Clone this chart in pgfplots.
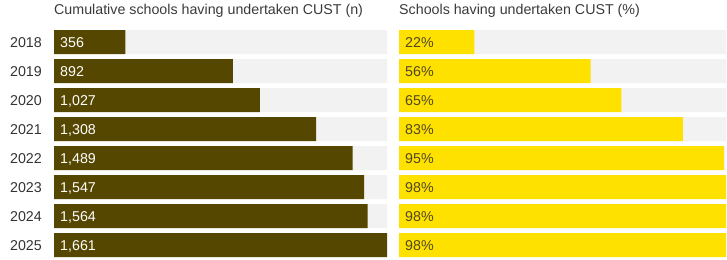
\documentclass[border=0pt]{standalone}
\usepackage{pgfplots}
\pgfplotsset{compat=1.18}
\usepackage{pgfplotstable}
\usepackage{fontspec}
\setmainfont{Liberation Sans}
\definecolor{olivebar}{HTML}{554600}
\definecolor{cyel}{HTML}{FFE100}
\definecolor{track}{HTML}{F2F2F2}
\definecolor{ytxt}{HTML}{333333}
\definecolor{lbltwo}{HTML}{4F4820}
\definecolor{ttl}{HTML}{3A3A3A}

\pgfplotstableread{
y n lab
7 356 356
6 892 892
5 1027 1,027
4 1308 1,308
3 1489 1,489
2 1547 1,547
1 1564 1,564
0 1661 1,661
}\lefttab

\pgfplotstableread{
y p lab
7 22 22\%
6 56 56\%
5 65 65\%
4 83 83\%
3 95 95\%
2 98 98\%
1 98 98\%
0 98 98\%
}\righttab

\newcommand\chartfont{\fontsize{14.3}{16}\selectfont}

\pgfplotsset{
  panel/.style={
    scale only axis,
    height=232bp,
    ymin=-0.5, ymax=7.5,
    xmin=0,
    axis line style={draw=none},
    major tick length=0pt,
    xtick=\empty,
    title style={at={(0,1)}, anchor=base west, yshift=7bp, inner sep=0pt,
      font=\chartfont, text=ttl},
  },
  trackbar/.style={xbar, fill=track, draw=none, bar width=24bp, bar shift=0pt},
  mainbar/.style={xbar, draw=none, bar width=24bp, bar shift=0pt},
  lbls/.style={only marks, mark=none, nodes near coords, point meta=explicit symbolic,
    nodes near coords style={anchor=base west, xshift=6bp, yshift=-5bp, inner sep=0pt,
      font=\chartfont, text=#1}},
}

\begin{document}
\begin{tikzpicture}
\useasboundingbox (0,0) rectangle (727bp,260bp);
\begin{axis}[panel,
  at={(54bp,0.5bp)}, anchor=south west,
  width=333bp, xmax=1661,
  ytick={0,...,7},
  yticklabels={2025,2024,2023,2022,2021,2020,2019,2018},
  yticklabel style={anchor=base east, inner sep=0pt, xshift=-12bp, yshift=-5bp,
    font=\chartfont, text=ytxt},
  title={Cumulative schools having undertaken CUST (n)},
]
\addplot[trackbar] table[x expr=1661, y=y] {\lefttab};
\addplot[mainbar, fill=olivebar] table[x=n, y=y] {\lefttab};
\addplot[lbls=white] table[x expr=0, y=y, meta=lab] {\lefttab};
\end{axis}
\begin{axis}[panel,
  at={(399bp,0.5bp)}, anchor=south west,
  width=327bp, xmax=95.6,
  ytick=\empty,
  title={Schools having undertaken CUST (\%)},
]
\addplot[trackbar] table[x expr=100, y=y] {\righttab};
\addplot[mainbar, fill=cyel] table[x=p, y=y] {\righttab};
\addplot[lbls=lbltwo] table[x expr=0, y=y, meta=lab] {\righttab};
\end{axis}
\end{tikzpicture}
\end{document}
